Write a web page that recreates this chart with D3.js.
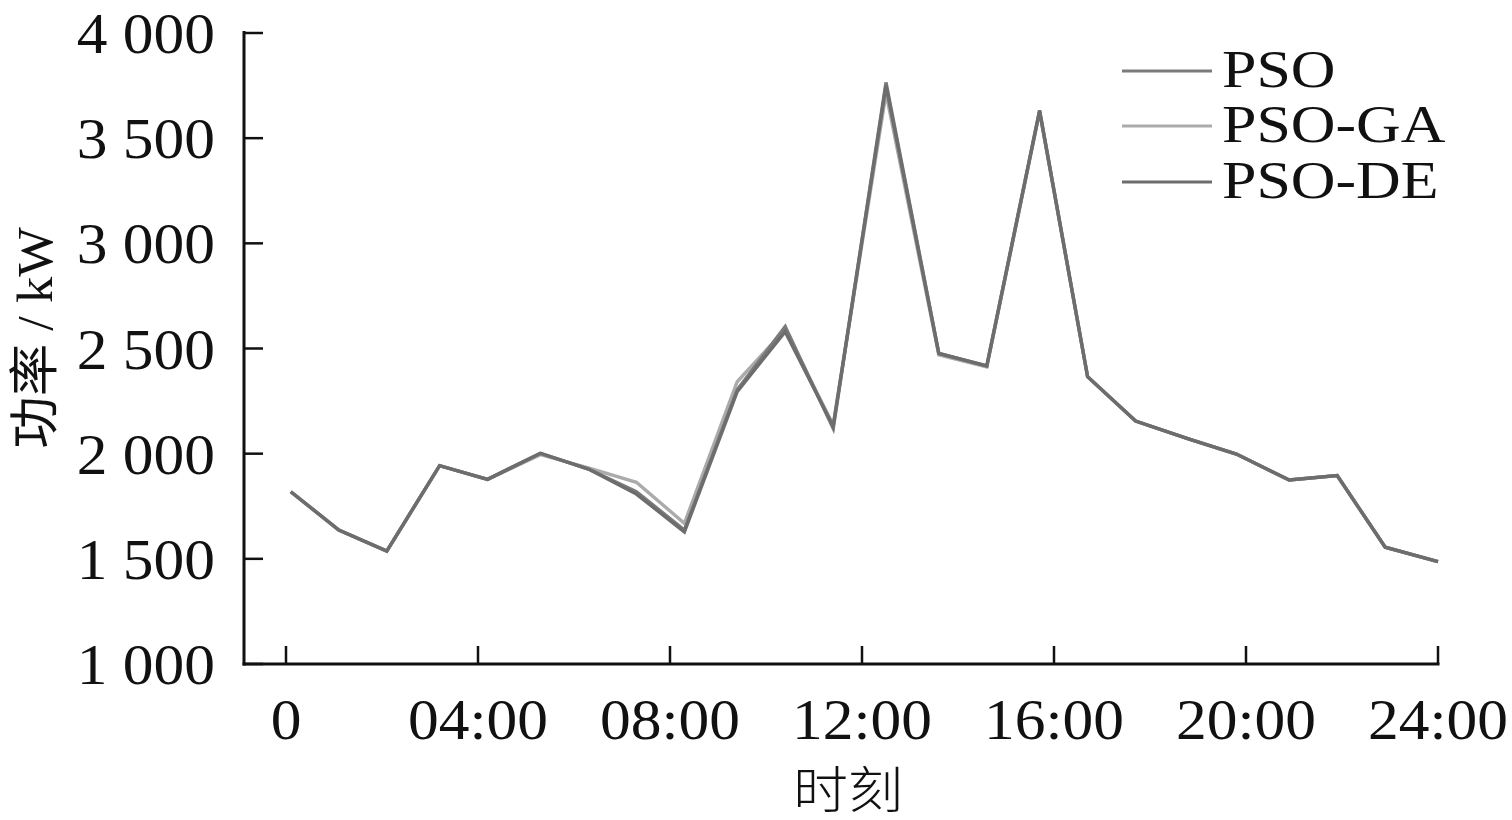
<!DOCTYPE html>
<html>
<head>
<meta charset="utf-8">
<script src="https://cdn.jsdelivr.net/npm/d3@7"></script>
<style>
  html, body { margin: 0; padding: 0; background: #fff; }
  svg { display: block; }
  text { font-family: "Liberation Serif", "Times New Roman", "Noto Sans CJK SC", serif; fill: #111; }
</style>
</head>
<body>
<svg id="chart" width="1512" height="820"></svg>
<script>
// ---- data ----
const hours = [0.1, 1.1, 2.1, 3.2, 4.2, 5.3, 6.3, 7.3, 8.3, 9.4, 10.4, 11.4,
               12.5, 13.6, 14.6, 15.7, 16.7, 17.7, 18.8, 19.8, 20.9, 21.9, 22.9, 24.0];
const psoValues   = [1819, 1637, 1537, 1943, 1878, 2002, 1927, 1819, 1637, 2303, 2604, 2120,
                     3765, 2477, 2417, 3632, 2366, 2155, 2070, 1998, 1875, 1896, 1555, 1487];
const psoGaValues = [1819, 1637, 1537, 1943, 1878, 1995, 1932, 1864, 1669, 2342, 2590, 2136,
                     3714, 2470, 2412, 3625, 2366, 2155, 2070, 1998, 1875, 1896, 1555, 1487];
const psoDeValues = [1819, 1637, 1537, 1943, 1878, 2002, 1927, 1808, 1628, 2295, 2580, 2130,
                     3750, 2477, 2417, 3630, 2366, 2155, 2070, 1998, 1875, 1896, 1555, 1487];
const seriesNames = ["PSO", "PSO-GA", "PSO-DE"];
const xTickValues = [0, 4, 8, 12, 16, 20, 24];
const xTickLabels = ["0", "04:00", "08:00", "12:00", "16:00", "20:00", "24:00"];
const yTickValues = [1000, 1500, 2000, 2500, 3000, 3500, 4000];
const yTickLabels = ["1 000", "1 500", "2 000", "2 500", "3 000", "3 500", "4 000"];
const xTitle = "时刻";
const yTitle = "功率 / kW";

// ---- layout ----
const svg = d3.select("#chart");
const x = d3.scaleLinear().domain([0, 24]).range([286, 1438]);
const y = d3.scaleLinear().domain([1000, 4000]).range([664, 33]);
const axisLeftX = 244;
const FS = 58, SX = 1.06;
const LFS = 52, LSX = 1.19;

const colors = { "PSO": "#7b7b7b", "PSO-GA": "#ababab", "PSO-DE": "#6d6d6d" };
const series = [
  { name: "PSO-GA", values: psoGaValues },
  { name: "PSO", values: psoValues },
  { name: "PSO-DE", values: psoDeValues }
];

// lines
const line = d3.line().x((d, i) => x(hours[i])).y(d => y(d));
svg.append("g").selectAll("path").data(series).join("path")
  .attr("d", d => line(d.values))
  .attr("fill", "none")
  .attr("stroke", d => colors[d.name])
  .attr("stroke-width", 3.4)
  .attr("stroke-linejoin", "miter");

// axes
const axisColor = "#111";
svg.append("line").attr("x1", axisLeftX).attr("x2", axisLeftX)
  .attr("y1", y(4000) - 2).attr("y2", y(1000) + 1.5)
  .attr("stroke", axisColor).attr("stroke-width", 3);
svg.append("line").attr("x1", axisLeftX - 1.5).attr("x2", x(24) + 1.5)
  .attr("y1", y(1000)).attr("y2", y(1000))
  .attr("stroke", axisColor).attr("stroke-width", 3);

// y ticks
svg.append("g").selectAll("line").data(yTickValues).join("line")
  .attr("x1", axisLeftX).attr("x2", axisLeftX + 19)
  .attr("y1", d => y(d)).attr("y2", d => y(d))
  .attr("stroke", axisColor).attr("stroke-width", 2.5);
svg.append("g").selectAll("text").data(yTickValues).join("text")
  .attr("transform", d => `translate(215,${y(d) + 20}) scale(${SX},1)`)
  .attr("text-anchor", "end")
  .attr("font-size", FS)
  .text((d, i) => yTickLabels[i]);

// x ticks
svg.append("g").selectAll("line").data(xTickValues).join("line")
  .attr("x1", d => x(d)).attr("x2", d => x(d))
  .attr("y1", y(1000)).attr("y2", y(1000) - 18)
  .attr("stroke", axisColor).attr("stroke-width", 2.5);
svg.append("g").selectAll("text").data(xTickValues).join("text")
  .attr("transform", d => `translate(${x(d)},739) scale(${SX},1)`)
  .attr("text-anchor", "middle")
  .attr("font-size", FS)
  .text((d, i) => xTickLabels[i]);

// axis titles
svg.append("text")
  .attr("transform", `translate(848,808) scale(1.1,1)`)
  .attr("text-anchor", "middle")
  .attr("font-size", 50)
  .attr("font-family", "'Noto Sans CJK SC', sans-serif")
  .attr("font-weight", 300)
  .text(xTitle);
svg.append("text")
  .attr("transform", `translate(52,338) rotate(-90) scale(1.05,1)`)
  .attr("text-anchor", "middle")
  .attr("font-size", 50)
  .attr("font-family", "'Liberation Serif', 'Noto Sans CJK SC', serif")
  .text(yTitle);

// legend
const legY = [71, 126, 182];
const leg = svg.append("g").selectAll("g").data(seriesNames).join("g");
leg.append("line")
  .attr("x1", 1122).attr("x2", 1212)
  .attr("y1", (d, i) => legY[i]).attr("y2", (d, i) => legY[i])
  .attr("stroke", d => colors[d]).attr("stroke-width", 3);
leg.append("text")
  .attr("transform", (d, i) => `translate(1222,${legY[i] + 16}) scale(${LSX},1)`)
  .attr("font-size", LFS)
  .text(d => d);
</script>
</body>
</html>
